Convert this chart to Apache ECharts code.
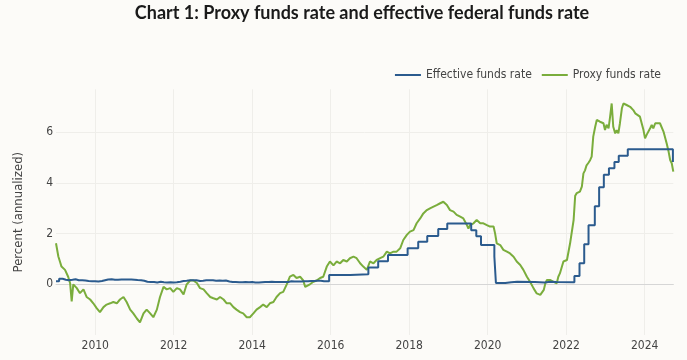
<!DOCTYPE html>
<html>
<head>
<meta charset="utf-8">
<script src="https://cdn.jsdelivr.net/npm/echarts@6/dist/echarts.min.js"></script>
<style>
  html, body { margin: 0; padding: 0; background: #fcfbf8; }
  #chart { width: 687px; height: 360px; }
</style>
</head>
<body>
<div id="chart"></div>
<script>
const titleText = 'Chart 1: Proxy funds rate and effective federal funds rate';
const seriesNames = ['Effective funds rate', 'Proxy funds rate'];
const yTickLabels = [0, 2, 4, 6];
const xTickYears = [2010, 2012, 2014, 2016, 2018, 2020, 2022, 2024];

// Effective funds rate: change dates (decimal years) and levels (held until next date)
const effDates = [
  2009.00, 2009.08, 2009.17, 2009.25, 2009.33, 2009.42, 2009.50, 2009.58, 2009.67, 2009.75, 2009.83, 2009.92,
  2010.00, 2010.08, 2010.17, 2010.25, 2010.33, 2010.42, 2010.50, 2010.58, 2010.67, 2010.75, 2010.83, 2010.92,
  2011.00, 2011.08, 2011.17, 2011.25, 2011.33, 2011.42, 2011.50, 2011.58, 2011.67, 2011.75, 2011.83, 2011.92,
  2012.00, 2012.08, 2012.17, 2012.25, 2012.33, 2012.42, 2012.50, 2012.58, 2012.67, 2012.75, 2012.83, 2012.92,
  2013.00, 2013.08, 2013.17, 2013.25, 2013.33, 2013.42, 2013.50, 2013.58, 2013.67, 2013.75, 2013.83, 2013.92,
  2014.00, 2014.08, 2014.17, 2014.25, 2014.33, 2014.42, 2014.50, 2014.58, 2014.67, 2014.75, 2014.83, 2014.92,
  2015.00, 2015.08, 2015.17, 2015.25, 2015.33, 2015.42, 2015.50, 2015.58, 2015.67, 2015.75, 2015.83,
  2015.96, 2016.10, 2016.50, 2016.96, 2017.21, 2017.46, 2017.96, 2018.23, 2018.46, 2018.74, 2018.97,
  2019.58, 2019.71, 2019.83, 2020.17, 2020.21, 2020.45, 2020.60, 2020.75, 2021.20, 2021.45, 2021.50,
  2021.60, 2021.75, 2022.21, 2022.34, 2022.46, 2022.57, 2022.73, 2022.84, 2022.96, 2023.09, 2023.23,
  2023.34, 2023.57, 2024.72, 2024.73
];
const effValues = [
  0.12, 0.22, 0.18, 0.16, 0.18, 0.20, 0.16, 0.16, 0.15, 0.13, 0.12, 0.12,
  0.11, 0.13, 0.16, 0.19, 0.20, 0.18, 0.18, 0.19, 0.19, 0.19, 0.19, 0.18,
  0.17, 0.16, 0.14, 0.10, 0.09, 0.09, 0.07, 0.10, 0.08, 0.07, 0.08, 0.07,
  0.08, 0.10, 0.13, 0.14, 0.16, 0.16, 0.16, 0.13, 0.14, 0.16, 0.16, 0.16,
  0.14, 0.15, 0.14, 0.15, 0.11, 0.09, 0.09, 0.08, 0.08, 0.09, 0.08, 0.09,
  0.07, 0.07, 0.08, 0.09, 0.09, 0.10, 0.09, 0.09, 0.09, 0.09, 0.09, 0.12,
  0.11, 0.11, 0.11, 0.12, 0.12, 0.13, 0.13, 0.14, 0.14, 0.12, 0.12,
  0.37, 0.37, 0.40, 0.66, 0.91, 1.16, 1.42, 1.68, 1.91, 2.18, 2.40,
  2.13, 1.90, 1.55, 1.10, 0.05, 0.08, 0.10, 0.09, 0.07, 0.08, 0.10,
  0.09, 0.08, 0.33, 0.83, 1.58, 2.33, 3.08, 3.83, 4.33, 4.58, 4.83,
  5.08, 5.33, 4.83, 4.83
];

// Proxy funds rate
const proxyDates = [
  2009.00, 2009.06, 2009.10, 2009.14, 2009.23, 2009.27, 2009.31, 2009.36, 2009.40, 2009.44,
  2009.53, 2009.61, 2009.70, 2009.78, 2009.87, 2009.95, 2010.04, 2010.12, 2010.21, 2010.29,
  2010.38, 2010.46, 2010.55, 2010.63, 2010.72, 2010.80, 2010.89, 2010.97, 2011.06, 2011.14,
  2011.23, 2011.31, 2011.40, 2011.48, 2011.52, 2011.57, 2011.65, 2011.74, 2011.82, 2011.91,
  2011.99, 2012.08, 2012.16, 2012.25, 2012.33, 2012.42, 2012.50, 2012.59, 2012.67, 2012.76,
  2012.84, 2012.93, 2013.01, 2013.10, 2013.18, 2013.27, 2013.35, 2013.44, 2013.52, 2013.60,
  2013.69, 2013.77, 2013.86, 2013.94, 2014.03, 2014.11, 2014.20, 2014.28, 2014.37, 2014.45,
  2014.54, 2014.62, 2014.71, 2014.79, 2014.88, 2014.96, 2015.05, 2015.13, 2015.22, 2015.30,
  2015.35, 2015.39, 2015.47, 2015.56, 2015.64, 2015.73, 2015.81, 2015.90, 2015.98, 2016.07,
  2016.15, 2016.24, 2016.32, 2016.41, 2016.49, 2016.58, 2016.66, 2016.75, 2016.83, 2016.92,
  2017.00, 2017.09, 2017.17, 2017.26, 2017.34, 2017.43, 2017.51, 2017.60, 2017.68, 2017.77,
  2017.85, 2017.94, 2018.02, 2018.11, 2018.19, 2018.28, 2018.36, 2018.45, 2018.53, 2018.62,
  2018.70, 2018.79, 2018.87, 2018.91, 2018.96, 2019.04, 2019.13, 2019.21, 2019.30, 2019.38,
  2019.47, 2019.51, 2019.55, 2019.64, 2019.72, 2019.81, 2019.89, 2019.98, 2020.06, 2020.15,
  2020.19, 2020.23, 2020.32, 2020.40, 2020.49, 2020.57, 2020.66, 2020.74, 2020.83, 2020.91,
  2021.00, 2021.08, 2021.17, 2021.25, 2021.34, 2021.38, 2021.43, 2021.47, 2021.51, 2021.60,
  2021.68, 2021.76, 2021.80, 2021.84, 2021.93, 2022.02, 2022.10, 2022.19, 2022.23, 2022.27,
  2022.35, 2022.40, 2022.44, 2022.48, 2022.52, 2022.56, 2022.61, 2022.65, 2022.69, 2022.74,
  2022.78, 2022.82, 2022.86, 2022.91, 2022.95, 2022.99, 2023.03, 2023.08, 2023.12, 2023.16,
  2023.20, 2023.25, 2023.29, 2023.33, 2023.37, 2023.42, 2023.46, 2023.50, 2023.54, 2023.59,
  2023.63, 2023.71, 2023.76, 2023.80, 2023.88, 2023.97, 2024.01, 2024.05, 2024.14, 2024.18,
  2024.22, 2024.27, 2024.31, 2024.39, 2024.44, 2024.48, 2024.56, 2024.61, 2024.65, 2024.69,
  2024.73
];
const proxyValues = [
  1.62, 1.10, 0.90, 0.70, 0.57, 0.50, 0.30, 0.04, -0.68, 0.00,
  -0.15, -0.35, -0.20, -0.50, -0.60, -0.75, -0.95, -1.10, -0.90, -0.80,
  -0.75, -0.70, -0.75, -0.60, -0.50, -0.70, -1.00, -1.15, -1.35, -1.50,
  -1.15, -1.00, -1.15, -1.30, -1.35, -1.00, -0.50, -0.10, -0.20, -0.15,
  -0.30, -0.15, -0.20, -0.40, 0.00, 0.15, 0.15, 0.05, -0.15, -0.20,
  -0.35, -0.50, -0.55, -0.60, -0.50, -0.60, -0.75, -0.75, -0.90, -1.00,
  -1.10, -1.15, -1.30, -1.30, -1.15, -1.00, -0.90, -0.80, -0.90, -0.75,
  -0.70, -0.50, -0.35, -0.30, 0.00, 0.30, 0.37, 0.25, 0.30, 0.15,
  -0.10, -0.05, 0.00, 0.10, 0.15, 0.25, 0.30, 0.70, 0.90, 0.75,
  0.90, 0.83, 0.96, 0.90, 1.03, 1.09, 1.03, 0.83, 0.70, 0.57,
  0.90, 0.83, 0.96, 1.03, 1.09, 1.29, 1.22, 1.29, 1.29, 1.42,
  1.75, 1.95, 2.08, 2.14, 2.41, 2.60, 2.80, 2.93, 3.00, 3.07,
  3.13, 3.20, 3.26, 3.33, 3.13, 2.93, 2.87, 2.74, 2.67, 2.60,
  2.34, 2.20, 2.34, 2.41, 2.54, 2.41, 2.41, 2.34, 2.28, 2.28,
  2.00, 1.62, 1.55, 1.36, 1.29, 1.22, 1.09, 0.90, 0.76, 0.57,
  0.30, 0.10, -0.16, -0.36, -0.42, -0.49, -0.22, 0.04, 0.17, 0.17,
  0.10, 0.04, 0.30, 0.43, 0.90, 0.96, 1.62, 2.54, 3.50, 3.60,
  3.66, 3.86, 4.38, 4.50, 4.70, 4.78, 4.90, 5.04, 5.83, 6.22,
  6.49, 6.55, 6.42, 6.49, 6.36, 6.09, 6.30, 6.16, 6.62, 7.14,
  6.22, 5.96, 6.09, 5.96, 6.36, 6.95, 7.14, 7.21, 7.08, 7.14,
  7.01, 6.88, 6.75, 6.82, 6.62, 6.09, 5.76, 5.90, 6.16, 6.29,
  6.16, 6.36, 6.42, 6.36, 6.29, 6.03, 5.57, 5.24, 4.91, 4.78,
  4.45
];

const effData = effDates.map((d, i) => [d, effValues[i]]);
const proxyData = proxyDates.map((d, i) => [d, proxyValues[i]]);

const labelFont = '"DejaVu Sans Condensed", "Liberation Sans", sans-serif';
const chart = echarts.init(document.getElementById('chart'), null, { renderer: 'canvas' });
chart.setOption({
  backgroundColor: '#fcfbf8',
  animation: false,
  title: {
    text: titleText,
    left: 357,
    top: -1,
    textAlign: 'center',
    textStyle: { fontFamily: 'Lato, sans-serif', fontWeight: 'bold', fontSize: 18, color: '#1a1a1a' }
  },
  legend: {
    data: seriesNames,
    right: 21,
    top: 64,
    icon: 'rect',
    itemWidth: 26,
    itemHeight: 2,
    itemGap: 10,
    textStyle: { fontFamily: labelFont, fontSize: 12, color: '#444' }
  },
  grid: { left: 56, right: 13.7, top: 89.3, bottom: 25.04, containLabel: false },
  xAxis: {
    type: 'value',
    min: 2009,
    max: 2024.73,
    interval: 1,
    axisLine: { show: true, lineStyle: { color: '#d6d6d6', width: 1 } },
    axisTick: { show: false },
    axisLabel: {
      margin: 5,
      showMinLabel: true, showMaxLabel: true,
      fontFamily: labelFont, fontSize: 12, color: '#444',
      formatter: v => (xTickYears.indexOf(v) >= 0 ? String(v) : '')
    },
    splitLine: { show: true, lineStyle: { color: ['rgba(0,0,0,0)', '#efeeea'], width: 1 } }
  },
  yAxis: {
    type: 'value',
    min: -2,
    max: 7.7,
    interval: 2,
    name: 'Percent (annualized)',
    nameLocation: 'middle',
    nameGap: 31,
    nameTextStyle: { fontFamily: labelFont, fontSize: 13, color: '#444' },
    axisLine: { show: false },
    axisTick: { show: false },
    axisLabel: {
      margin: 3,
      fontFamily: labelFont, fontSize: 12, color: '#444',
      formatter: v => (yTickLabels.indexOf(v) >= 0 ? String(v) : '')
    },
    splitLine: { show: true, lineStyle: { color: ['rgba(0,0,0,0)', '#d9d9d6', '#efeeea', '#efeeea', '#efeeea', 'rgba(0,0,0,0)'], width: 1 } }
  },
  series: [
    {
      name: 'Proxy funds rate',
      type: 'line',
      data: proxyData,
      showSymbol: false,
      symbol: 'none',
      lineStyle: { color: '#7aad3c', width: 2 },
      itemStyle: { color: '#7aad3c' },
      z: 2
    },
    {
      name: 'Effective funds rate',
      type: 'line',
      step: 'end',
      data: effData,
      showSymbol: false,
      symbol: 'none',
      lineStyle: { color: '#2b5b8e', width: 2 },
      itemStyle: { color: '#2b5b8e' },
      z: 3
    }
  ]
});
</script>
</body>
</html>
